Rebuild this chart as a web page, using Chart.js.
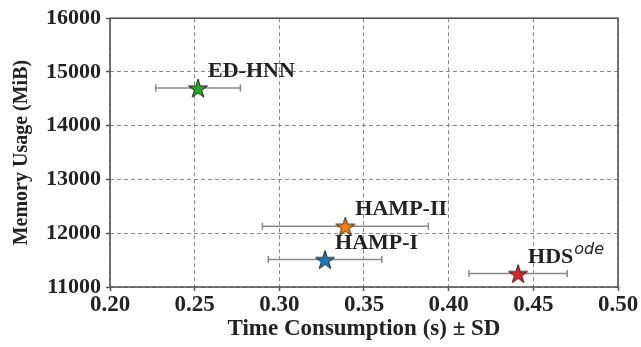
<!DOCTYPE html>
<html><head><meta charset="utf-8">
<script src="https://cdn.jsdelivr.net/npm/chart.js@4.4.0/dist/chart.umd.min.js"></script>
<style>html,body{margin:0;padding:0;background:#fff;}#wrap{width:641px;height:347px;position:relative;}</style>
</head><body><div id="wrap"><canvas id="c" width="641" height="347"></canvas></div>
<script>
const methods = ["ED-HNN", "HAMP-II", "HAMP-I", "HDS"];
const superscripts = ["", "", "", "ode"];
const timeMean = [0.252, 0.339, 0.327, 0.441];
const timeSD = [0.025, 0.049, 0.0335, 0.029];
const memory = [14700, 12130, 11510, 11250];
const colors = ["#2ca02c", "#ff7f0e", "#1f77b4", "#d62728"];
const xTicks = [0.20, 0.25, 0.30, 0.35, 0.40, 0.45, 0.50];
const yTicks = [11000, 12000, 13000, 14000, 15000, 16000];

const serif = "'Liberation Serif','Times New Roman',serif";

function starImage(color) {
  const c = document.createElement('canvas');
  const S = 24; c.width = S; c.height = S;
  const g = c.getContext('2d');
  const R = 10, r = R * 0.381966, cx = S / 2, cy = S / 2 + 1;
  g.beginPath();
  for (let k = 0; k < 10; k++) {
    const rad = k % 2 === 0 ? R : r;
    const ang = -Math.PI / 2 + k * Math.PI / 5;
    const px = cx + rad * Math.cos(ang), py = cy + rad * Math.sin(ang);
    if (k === 0) g.moveTo(px, py); else g.lineTo(px, py);
  }
  g.closePath();
  g.fillStyle = color; g.fill();
  g.strokeStyle = '#222'; g.lineWidth = 1; g.lineJoin = 'miter'; g.stroke();
  return c;
}
const starImgs = colors.map(starImage);

const errPlugin = {
  id: 'errbars',
  beforeDatasetsDraw(chart) {
    const ctx = chart.ctx, xs = chart.scales.x, ys = chart.scales.y;
    ctx.save();
    ctx.strokeStyle = '#8a8a8a';
    ctx.lineWidth = 1.5;
    for (let i = 0; i < methods.length; i++) {
      const y = ys.getPixelForValue(memory[i]);
      const x1 = xs.getPixelForValue(timeMean[i] - timeSD[i]);
      const x2 = xs.getPixelForValue(timeMean[i] + timeSD[i]);
      ctx.beginPath();
      ctx.moveTo(x1, y); ctx.lineTo(x2, y);
      ctx.moveTo(x1, y - 3.5); ctx.lineTo(x1, y + 3.5);
      ctx.moveTo(x2, y - 3.5); ctx.lineTo(x2, y + 3.5);
      ctx.stroke();
    }
    ctx.restore();
  },
  afterDatasetsDraw(chart) {
    const ctx = chart.ctx, xs = chart.scales.x, ys = chart.scales.y;
    ctx.save();
    ctx.fillStyle = '#222';
    ctx.textBaseline = 'alphabetic';
    ctx.textAlign = 'left';
    for (let i = 0; i < methods.length; i++) {
      const px = xs.getPixelForValue(timeMean[i]) + 10;
      const py = ys.getPixelForValue(memory[i]) - 11;
      ctx.font = "bold 22px " + serif;
      ctx.fillText(methods[i], px, py);
      if (superscripts[i]) {
        const w = ctx.measureText(methods[i]).width;
        ctx.font = "italic 16px 'DejaVu Sans', sans-serif";
        ctx.fillText(superscripts[i], px + w + 1, py - 9);
      }
    }
    const a = chart.chartArea;
    ctx.strokeStyle = '#555';
    ctx.lineWidth = 1.6;
    ctx.strokeRect(a.left, a.top, a.right - a.left, a.bottom - a.top);
    ctx.restore();
  }
};

const gridOpts = {color: '#8a8a8a', lineWidth: 1, tickLength: 4, tickColor: '#555', tickBorderDash: [], tickWidth: 1.5};

new Chart(document.getElementById('c'), {
  type: 'scatter',
  data: {
    datasets: [{
      data: methods.map((m, i) => ({x: timeMean[i], y: memory[i]})),
      pointStyle: starImgs,
      pointRadius: 10,
      showLine: false
    }]
  },
  options: {
    responsive: false,
    animation: false,
    layout: {padding: {top: 14, right: 23, left: 0, bottom: 0}},
    plugins: {legend: {display: false}, tooltip: {enabled: false}},
    scales: {
      x: {
        type: 'linear', min: 0.20, max: 0.50,
        afterBuildTicks(s) { s.ticks = xTicks.map(v => ({value: v})); },
        afterFit(s) { s.height = 60; },
        border: {display: false, dash: [4, 3]},
        grid: gridOpts,
        ticks: {color: '#222', padding: 0, font: {family: serif, size: 23, weight: 'bold'}, callback: v => v.toFixed(2), maxRotation: 0},
        title: {display: true, text: 'Time Consumption (s) ± SD', color: '#222', font: {family: serif, size: 23, weight: 'bold'}, padding: {top: 0, bottom: 4}}
      },
      y: {
        type: 'linear', min: 11000, max: 16000,
        afterBuildTicks(s) { s.ticks = yTicks.map(v => ({value: v})); },
        afterFit(s) { s.width = 110; },
        border: {display: false, dash: [4, 3]},
        grid: gridOpts,
        ticks: {color: '#222', padding: 5, font: {family: serif, size: 22, weight: 'bold'}, callback: v => String(v)},
        title: {display: true, text: 'Memory Usage (MiB)', color: '#222', font: {family: serif, size: 20, weight: 'bold'}, padding: {top: 10, bottom: 2}}
      }
    }
  },
  plugins: [errPlugin]
});
</script></body></html>
